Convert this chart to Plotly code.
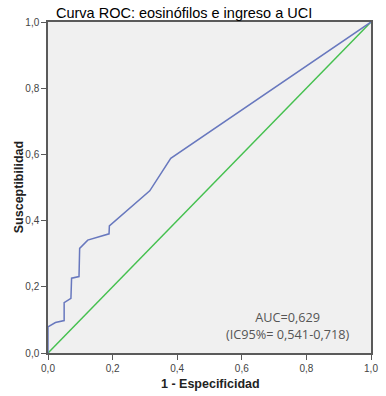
import plotly.graph_objects as go

# ROC curve: false positive rate (1 - especificidad) vs sensitivity
fpr = [0.0, 0.0, 0.023, 0.05, 0.05, 0.071, 0.073, 0.096, 0.098, 0.123, 0.189, 0.19, 0.315, 0.38, 1.0]
tpr = [0.0, 0.079, 0.092, 0.098, 0.152, 0.165, 0.226, 0.231, 0.316, 0.341, 0.36, 0.384, 0.49, 0.588, 1.0]

# reference diagonal
diag_x = [0.0, 1.0]
diag_y = [0.0, 1.0]

tick_vals = [0.0, 0.2, 0.4, 0.6, 0.8, 1.0]
tick_text = ["0,0", "0,2", "0,4", "0,6", "0,8", "1,0"]

auc_text = "AUC=0,629<br>(IC95%= 0,541-0,718)"

fig = go.Figure()
fig.add_trace(go.Scatter(x=diag_x, y=diag_y, mode="lines",
                         line=dict(color="#45c04f", width=1.5), hoverinfo="skip"))
fig.add_trace(go.Scatter(x=fpr, y=tpr, mode="lines",
                         line=dict(color="#6878be", width=1.5)))

axis_common = dict(range=[0, 1], tickvals=tick_vals, ticktext=tick_text,
                   showgrid=False, zeroline=False, showline=True, mirror=True,
                   linecolor="#5a5a5a", linewidth=1.5, ticks="outside",
                   ticklen=5, tickwidth=1.2, tickcolor="#5a5a5a",
                   tickfont=dict(family="Liberation Sans, Arial", size=10, color="#444"))

fig.update_layout(
    width=386, height=396,
    margin=dict(l=47.5, r=7.5, t=22, b=43),
    paper_bgcolor="white", plot_bgcolor="#f0f0f0",
    showlegend=False,
    xaxis=dict(**axis_common),
    yaxis=dict(**axis_common),
    title=dict(text="Curva ROC: eosinófilos e ingreso a UCI",
               font=dict(family="Liberation Sans, Arial", size=14.5, color="#000"),
               x=(187 - 47.5) / 331, xref="paper", xanchor="center",
               y=1 - 13 / 396, yref="container", yanchor="middle"),
)

fig.add_annotation(text="<b>1 - Especificidad</b>", xref="paper", yref="paper",
                   x=(214 - 47.5) / 331, y=-31 / 331, xanchor="center", yanchor="middle",
                   showarrow=False,
                   font=dict(family="Liberation Sans, Arial", size=12.5, color="#222"))
fig.add_annotation(text="<b>Susceptibilidad</b>", xref="paper", yref="paper",
                   x=-30 / 331, y=0.5, xanchor="center", yanchor="middle",
                   textangle=-90, showarrow=False,
                   font=dict(family="Liberation Sans, Arial", size=12.5, color="#222"))
fig.add_annotation(text=auc_text, xref="paper", yref="paper",
                   x=(293 - 47.5) / 331, y=(353 - 325) / 331,
                   xanchor="center", yanchor="middle", showarrow=False,
                   align="center",
                   font=dict(family="Open Sans, Liberation Sans", size=12.7, color="#555"))

fig.write_html("out.html")
